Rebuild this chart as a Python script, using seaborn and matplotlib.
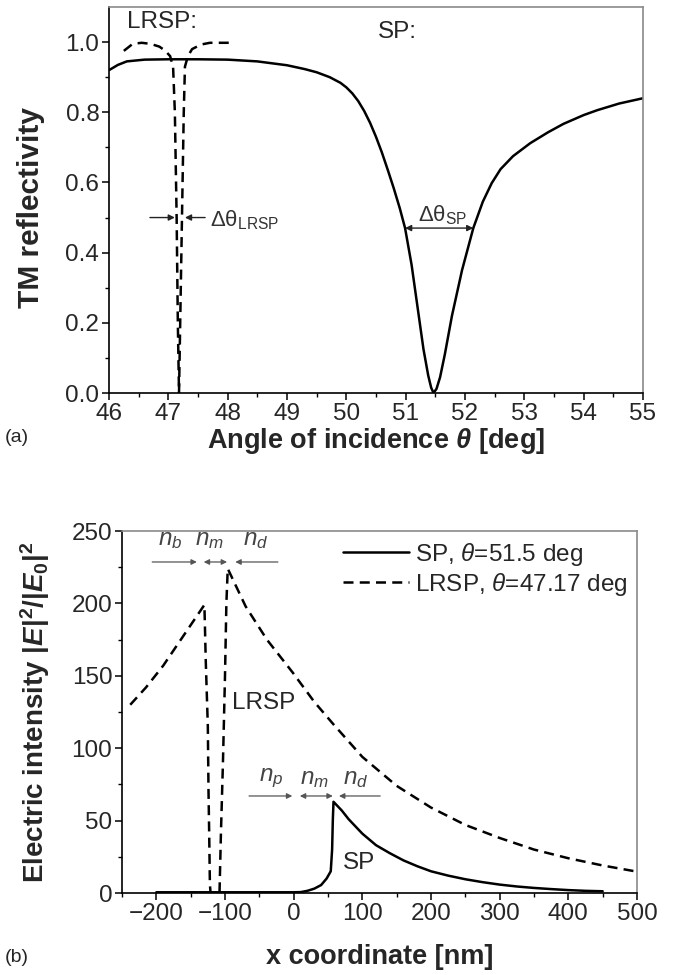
import numpy as np
import pandas as pd
import matplotlib
matplotlib.use("Agg")
import matplotlib.pyplot as plt
import seaborn as sns

# ---------------- data ----------------
sp_theta = [46.0, 46.15, 46.3, 46.6, 47.0, 47.5, 48.0, 48.5, 49.0, 49.3, 49.5, 49.72, 49.9,
            50.0, 50.1, 50.2, 50.3, 50.4, 50.5, 50.6, 50.7, 50.8, 50.9, 50.99, 51.1,
            51.2, 51.3, 51.38, 51.43, 51.47, 51.52, 51.58, 51.66, 51.78, 51.95, 52.14,
            52.3, 52.45, 52.6, 52.81, 53.1, 53.4, 53.66, 54.0, 54.23, 54.6, 55.0]
sp_refl = [0.92, 0.935, 0.945, 0.95, 0.951, 0.951, 0.95, 0.945, 0.934, 0.923, 0.914, 0.9, 0.884,
           0.871, 0.854, 0.832, 0.804, 0.77, 0.73, 0.685, 0.635, 0.583, 0.527, 0.47, 0.365,
           0.245, 0.125, 0.05, 0.015, 0.0, 0.012, 0.045, 0.11, 0.22, 0.35, 0.47,
           0.545, 0.598, 0.638, 0.675, 0.712, 0.743, 0.767, 0.792, 0.806, 0.825, 0.84]

lrsp_theta = [46.25, 46.4, 46.55, 46.7, 46.85, 46.95, 47.03, 47.08, 47.11, 47.14, 47.16,
              47.18, 47.2, 47.23, 47.26, 47.28, 47.33, 47.4, 47.55, 47.7, 48.05]
lrsp_refl = [0.975, 0.995, 0.998, 0.995, 0.987, 0.975, 0.96, 0.93, 0.8, 0.5, 0.2,
             0.0, 0.2, 0.5, 0.8, 0.93, 0.96, 0.98, 0.993, 0.998, 0.998]

sp_x = [-200, -100, 0, 10, 20, 30, 40, 48, 54, 56, 57, 58, 70, 80, 100, 120, 140, 160,
        180, 200, 225, 250, 275, 300, 325, 350, 375, 400, 425, 450]
sp_int = [0.5, 0.5, 0.5, 0.6, 1.5, 3.0, 5.5, 10, 15, 30, 50, 63, 57, 51, 41, 33, 27.5, 22.5,
          18.5, 15, 12, 9.5, 7.5, 5.8, 4.5, 3.5, 2.7, 2.0, 1.5, 1.2]

lrsp_x = [-238, -215, -190, -160, -130, -128, -125, -124, -123, -122, -121, -108, -106, -103,
          -100, -98, -96, -70, -39, -1, 30, 57, 100, 150, 200, 250, 300, 350, 400, 450, 497]
lrsp_int = [130, 142, 157, 178, 199, 160, 115, 70, 40, 6, 0, 0, 40, 90,
            150, 200, 224, 198, 175, 152, 132, 117, 94, 74, 59, 47, 38, 30, 24, 19, 15]

theta_ticks = [46, 47, 48, 49, 50, 51, 52, 53, 54, 55]
refl_ticks = [0.0, 0.2, 0.4, 0.6, 0.8, 1.0]
x_ticks = [-200, -100, 0, 100, 200, 300, 400, 500]
int_ticks = [0, 50, 100, 150, 200, 250]

legend_labels = [r'SP, $\mathit{θ}$=51.5 deg', r'LRSP, $\mathit{θ}$=47.17 deg']

# ---------------- style ----------------
sns.set_theme(style="ticks")
plt.rcParams['font.family'] = ['Liberation Sans', 'DejaVu Sans']
plt.rcParams['mathtext.fontset'] = 'custom'
plt.rcParams['mathtext.rm'] = 'Liberation Sans'
plt.rcParams['mathtext.it'] = 'Liberation Sans:italic'
plt.rcParams['mathtext.bf'] = 'Liberation Sans:bold'
plt.rcParams['mathtext.bfit'] = 'Liberation Sans:italic:bold'
plt.rcParams['mathtext.default'] = 'rm'

TICK_FS = 17.5
LAB_FS = 19.5
ANN_FS = 17.5

fig = plt.figure(figsize=(6.74, 9.75), dpi=100)
axA = fig.add_axes([109/674, 1-393/975, (643-109)/674, (393-7)/975])
axB = fig.add_axes([122/674, 1-893/975, (637-122)/674, (893-531)/975])

dfA1 = pd.DataFrame({'theta': sp_theta, 'R': sp_refl})
dfA2 = pd.DataFrame({'theta': lrsp_theta, 'R': lrsp_refl})
sns.lineplot(data=dfA1, x='theta', y='R', ax=axA, color='black', lw=1.8,
             estimator=None, sort=False)
sns.lineplot(data=dfA2, x='theta', y='R', ax=axA, color='black', lw=1.8,
             estimator=None, sort=False, linestyle=(0, (4, 2.5)))

dfB1 = pd.DataFrame({'x': sp_x, 'I': sp_int})
dfB2 = pd.DataFrame({'x': lrsp_x, 'I': lrsp_int})
sns.lineplot(data=dfB1, x='x', y='I', ax=axB, color='black', lw=1.8,
             estimator=None, sort=False, label=legend_labels[0])
sns.lineplot(data=dfB2, x='x', y='I', ax=axB, color='black', lw=1.8,
             estimator=None, sort=False, linestyle=(0, (4, 2.5)), label=legend_labels[1])

def style_axes(ax):
    for s in ['left', 'bottom']:
        ax.spines[s].set_color('black')
        ax.spines[s].set_linewidth(1.2)
    for s in ['top', 'right']:
        ax.spines[s].set_visible(True)
        ax.spines[s].set_color('#8a8a8a')
        ax.spines[s].set_linewidth(1.2)
    ax.tick_params(which='major', direction='out', length=5, width=1.1,
                   labelsize=TICK_FS, color='black', top=False, right=False, pad=2)
    ax.tick_params(which='minor', direction='out', length=3, width=1.0,
                   color='black', top=False, right=False)

# panel (a)
axA.set_xlim(46, 55)
axA.set_ylim(0, 1.1)
axA.set_xticks(theta_ticks)
axA.set_yticks(refl_ticks)
axA.set_yticklabels([f'{v:.1f}' for v in refl_ticks])
axA.set_xticks(np.arange(46.5, 55, 1.0), minor=True)
axA.set_yticks([0.1, 0.3, 0.5, 0.7, 0.9], minor=True)
style_axes(axA)
axA.set_xlabel(r'Angle of incidence $\mathbfit{θ}$ [deg]', fontsize=LAB_FS, fontweight='bold')
axA.set_ylabel('TM reflectivity', fontsize=21.5, fontweight='bold')
axA.xaxis.set_label_coords(0.5, -0.085)
axA.yaxis.set_label_coords(-0.12, 0.48)

axA.text(46.3, 1.057, 'LRSP:', fontsize=ANN_FS, va='center', ha='left')
axA.text(50.53, 1.028, 'SP:', fontsize=ANN_FS, va='center', ha='left')
arr = dict(arrowstyle='-|>', color='#222222', lw=1.0, mutation_scale=9, shrinkA=0, shrinkB=0)
axA.annotate('', xy=(47.11, 0.5), xytext=(46.69, 0.5), arrowprops=arr)
axA.annotate('', xy=(47.28, 0.5), xytext=(47.62, 0.5), arrowprops=arr)
axA.annotate('', xy=(50.99, 0.47), xytext=(52.14, 0.47),
             arrowprops=dict(arrowstyle='<|-|>', color='#222222', lw=1.0,
                             mutation_scale=9, shrinkA=0, shrinkB=0))
axA.text(47.7, 0.476, r'$\mathrm{Δθ}_{\mathrm{LRSP}}$', fontsize=16, va='baseline',
         ha='left', color='#333333')
axA.text(51.21, 0.488, r'$\mathrm{Δθ}_{\mathrm{SP}}$', fontsize=16, va='baseline',
         ha='left', color='#333333')

# panel (b)
axB.set_xlim(-250, 500)
axB.set_ylim(0, 250)
axB.set_xticks(x_ticks)
axB.set_yticks(int_ticks)
axB.set_xticks(np.arange(-250, 500, 100), minor=True)
axB.set_yticks([25, 75, 125, 175, 225], minor=True)
style_axes(axB)
axB.set_xlabel('x coordinate [nm]', fontsize=LAB_FS, fontweight='bold')
axB.set_ylabel(r'Electric intensity $\mathbf{|}\mathbfit{E}\mathbf{|}^{\mathbf{2}}\mathbf{/|}\mathbfit{E}_{\mathbf{0}}\mathbf{|}^{\mathbf{2}}$',
               fontsize=20, fontweight='bold')
axB.xaxis.set_label_coords(0.5, -0.14)
axB.yaxis.set_label_coords(-0.135, 0.5)

leg = axB.legend(loc='upper right', bbox_to_anchor=(1.0, 1.0), frameon=False,
                 fontsize=ANN_FS, handlelength=2.7, handletextpad=0.25,
                 labelspacing=0.12, borderpad=0.2, borderaxespad=0.2)

axB.text(-90, 131, 'LRSP', fontsize=ANN_FS, va='center', ha='left')
axB.text(72, 21, 'SP', fontsize=ANN_FS, va='center', ha='left')

gray = '#555555'
arrB = dict(arrowstyle='-|>', color=gray, lw=0.9, mutation_scale=8, shrinkA=0, shrinkB=0)
arrB2 = dict(arrowstyle='<|-|>', color=gray, lw=0.9, mutation_scale=8, shrinkA=0, shrinkB=0)
# upper set
axB.annotate('', xy=(-141, 228.6), xytext=(-206, 228.6), arrowprops=arrB)
axB.annotate('', xy=(-131, 228.6), xytext=(-97, 228.6), arrowprops=arrB2)
axB.annotate('', xy=(-85, 228.6), xytext=(-23, 228.6), arrowprops=arrB)
for xx, sub in [(-180, 'b'), (-122, 'm'), (-56, 'd')]:
    axB.text(xx, 244, r'$\mathit{n}_{\mathit{' + sub + '}}$', fontsize=ANN_FS,
             ha='center', va='center', color='#444444')
# lower set
axB.annotate('', xy=(-2, 67), xytext=(-65, 67), arrowprops=arrB)
axB.annotate('', xy=(9, 67), xytext=(57, 67), arrowprops=arrB2)
axB.annotate('', xy=(66, 67), xytext=(126, 67), arrowprops=arrB)
for xx, sub in [(-33, 'p'), (30, 'm'), (90, 'd')]:
    axB.text(xx, 79, r'$\mathit{n}_{\mathit{' + sub + '}}$', fontsize=ANN_FS,
             ha='center', va='center', color='#444444')

fig.text(5/674, 1-437/975, '(a)', fontsize=14, va='center', ha='left')
fig.text(5/674, 1-958/975, '(b)', fontsize=14, va='center', ha='left')

fig.savefig('out.png', dpi=100)
